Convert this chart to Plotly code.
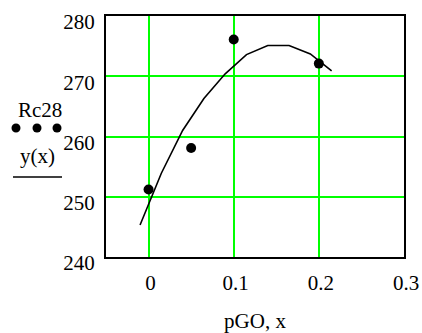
import plotly.graph_objects as go

# data points (Rc28 vs pGO)
pGO = [0.0, 0.05, 0.1, 0.2]
Rc28 = [251.2, 258.1, 276.1, 272.1]

# fitted curve y(x)
x_fit = [-0.01, 0.015, 0.04, 0.065, 0.09, 0.115, 0.14, 0.165, 0.19, 0.215]
y_fit = [245.3, 253.9, 261.0, 266.3, 270.4, 273.6, 275.1, 275.1, 273.7, 270.9]

x_ticks = [0, 0.1, 0.2, 0.3]
x_ticktext = ["0", "0.1", "0.2", "0.3"]
y_ticks = [240, 250, 260, 270, 280]

FONT = "Liberation Serif"
FS = 21

W, H = 422, 333
L, R, T, B = 106, 18, 16, 76
pw = W - L - R
ph = H - T - B

def px(xw):
    return (xw - L) / pw

def py(yw):
    return (H - B - yw) / ph

fig = go.Figure()
fig.add_trace(go.Scatter(x=x_fit, y=y_fit, mode="lines",
                         line=dict(color="black", width=1.6), showlegend=False))
fig.add_trace(go.Scatter(x=pGO, y=Rc28, mode="markers",
                         marker=dict(color="black", size=10), showlegend=False))

ann = [
    dict(text="Rc28", x=px(40), y=py(110), xref="paper", yref="paper",
         xanchor="center", yanchor="middle",
         showarrow=False, font=dict(family=FONT, size=FS, color="black")),
    dict(text="y(x)", x=px(37), y=py(156), xref="paper", yref="paper",
         xanchor="center", yanchor="middle",
         showarrow=False, font=dict(family=FONT, size=FS, color="black")),
]
shapes = [
    dict(type="line", xref="paper", yref="paper", x0=px(13), x1=px(62),
         y0=py(177), y1=py(177), line=dict(color="black", width=1.5)),
]
for cx in (16, 37, 57):
    shapes.append(dict(type="circle", xref="paper", yref="paper",
                       x0=px(cx - 4.5), x1=px(cx + 4.5), y0=py(128 + 4.5), y1=py(128 - 4.5),
                       fillcolor="black", line=dict(color="black", width=0)))

fig.update_layout(
    width=W, height=H,
    margin=dict(l=L, r=R, t=T, b=B, autoexpand=False),
    paper_bgcolor="white", plot_bgcolor="white",
    font=dict(family=FONT, size=FS, color="black"),
    annotations=ann, shapes=shapes,
    xaxis=dict(range=[-0.05, 0.3], tickvals=x_ticks, ticktext=x_ticktext,
               showgrid=True, gridcolor="#00FF00", gridwidth=2, automargin=False,
               zeroline=False, showline=True, linecolor="black", linewidth=2,
               mirror=True, ticks="", ticklabelstandoff=6, ticklabelshift=2,
               title=dict(text="pGO, x", font=dict(family=FONT, size=FS), standoff=22)),
    yaxis=dict(range=[240, 280], tickvals=y_ticks, automargin=False,
               showgrid=True, gridcolor="#00FF00", gridwidth=2,
               zeroline=False, showline=True, linecolor="black", linewidth=2,
               mirror=True, ticks="", ticklabelstandoff=5, ticklabelshift=6),
)

fig.write_html(
    "out.html",
    config={"displayModeBar": False},
    post_script="document.body.style.margin='0';document.body.style.overflow='hidden';",
)
